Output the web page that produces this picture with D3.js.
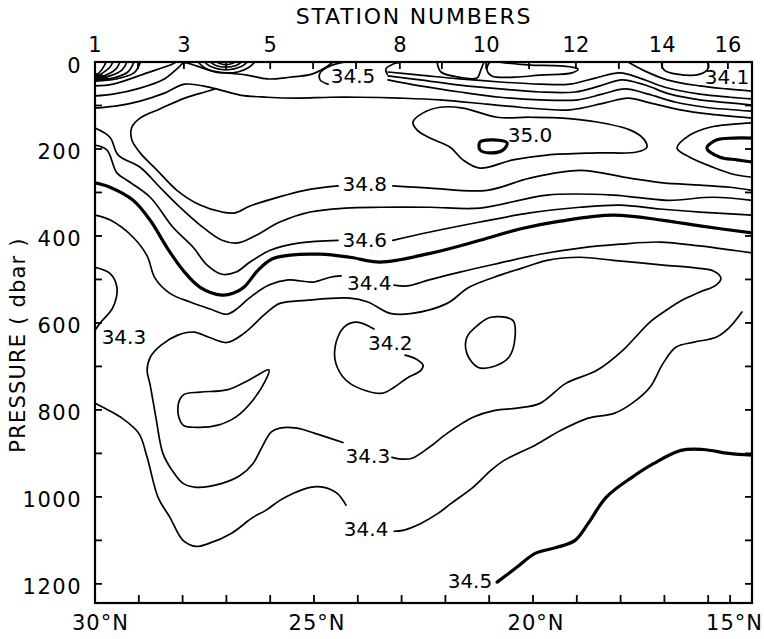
<!DOCTYPE html>
<html><head><meta charset="utf-8">
<script src="https://cdn.jsdelivr.net/npm/d3@7"></script>
<style>
body{margin:0;background:#fff}
text{font-family:"DejaVu Sans",sans-serif;fill:#000}
</style></head>
<body><svg id="c" width="764" height="639"></svg>
<script>
// ---------- axes data ----------
const latTicks = [30,29,28,27,26,25,24,23,22,21,20,19,18,17,16,15.5,15];
const latLabels = [30,25,20,15];
const pressureTicks = [0,100,200,300,400,500,600,700,800,900,1000,1100,1200];
const pressureLabels = [0,200,400,600,800,1000,1200];
const stationNumbers = [1,2,3,4,5,6,7,8,9,10,11,12,13,14,15,16];
const stationLats = [30.0,29.02,27.97,27.01,26.0,25.02,24.04,23.04,22.08,21.07,20.09,19.02,18.04,17.05,16.0,15.55];
const stationLabelled = [1,3,5,8,10,12,14,16];

// ---------- contour lines: [latitude °N, pressure dbar] ----------
// near-surface front at 30N
const fan0 = [[30,32],[29.89,23],[29.79,9],[29.75,0]];
const fan1 = [[30,35],[29.82,25],[29.66,12],[29.59,0]];
const fan2 = [[30,37],[29.75,30],[29.52,16],[29.43,0]];
const fan3 = [[30,39],[29.66,32],[29.38,18],[29.27,0]];
const fan4 = [[30,41],[29.59,37],[29.25,23],[29.11,0]];
const fan5 = [[30,44],[29.52,39],[29.11,25],[28.97,2]];
const top1 = [[30,55],[29.59,51],[28.81,25],[28.24,5],[28.15,0]];
const top2 = [[30,78],[29.59,74],[28.97,60],[28.45,41],[28.11,14],[27.97,2],[27.69,9],[27.31,21],[26.53,30],[26.07,39],[25.55,35],[25.05,28],[24.73,12],[24.57,0]];
const eye1 = [[27.65,0],[27.49,14],[27.26,23],[27.01,25],[26.74,23],[26.51,14],[26.35,0]];
const eye2 = [[27.50,0],[27.37,10],[27.01,18],[26.65,10],[26.52,0]];
const eye3 = [[27.36,0],[27.24,8],[27.01,12],[26.78,8],[26.66,0]];
const eye4 = [[27.22,0],[27.13,4],[27.01,6],[26.89,4],[26.80,0]];
const hook345 = [[24.29,0],[24.63,9],[24.86,25],[24.86,41],[24.68,51]];
const hook8 = [[22.97,0],[23.20,5],[23.36,16],[23.33,28]];
const cap910 = [[22.19,0],[22.10,23],[21.67,35],[21.28,37],[21.19,18],[21.12,0]];
const cap1012 = [[20.98,0],[21.05,18],[20.94,32],[20.41,35],[19.84,30],[19.11,25],[18.97,16],[19.38,9],[20.07,7],[20.64,2],[20.80,0]];
const cap1415 = [[17.05,0],[17.01,18],[16.71,28],[16.19,28],[16.0,14],[16.03,0]];
const upperR1 = [[17.83,0],[17.44,21],[16.94,41],[16.19,55],[15.57,62],[15.0,67]];
const upper345 = [[23.31,23],[22.58,30],[21.67,39],[20.75,46],[19.84,51],[19.16,51],[18.58,37],[18.01,25],[17.56,37],[16.99,58],[16.19,74],[15.50,81],[15.0,85]];
const upper346 = [[23.31,32],[22.58,41],[21.67,53],[20.75,62],[19.84,69],[19.04,69],[18.47,55],[17.97,41],[17.44,53],[16.87,74],[16.19,87],[15.50,94],[15.0,99]];
const upper347 = [[23.31,41],[22.58,55],[21.67,69],[20.75,81],[19.84,87],[18.97,87],[18.42,74],[17.90,62],[17.37,74],[16.76,92],[16.07,104],[15.0,113]];
const upper348 = [[30,106],[29.50,101],[28.97,90],[28.40,71],[27.95,51],[27.31,60],[26.69,76],[26.07,81],[25.39,83],[24.63,81],[23.95,81],[23.04,83],[22.12,87],[21.05,97],[20.30,104],[19.16,110],[18.36,94],[17.83,83],[17.33,94],[16.64,110],[15.96,120],[15.0,129]];
// salinity maximum
const max349 = [[22.74,138],[22.51,117],[22.12,104],[21.60,106],[20.82,127],[20.07,127],[19.32,129],[18.54,138],[17.79,156],[17.49,175],[17.40,196],[17.63,207],[18.54,209],[19.68,214],[20.46,225],[21.21,244],[21.60,225],[21.89,196],[22.35,175],[22.65,156]];
const max350 = [[21.21,184],[20.91,179],[20.59,186],[20.68,202],[20.98,209],[21.21,202]];
const tongue349 = [[15,140],[15.43,143],[15.96,150],[16.42,168],[16.71,198],[16.42,219],[15.89,242],[15.43,258],[15,265]];
const tongue350 = [[15,175],[15.43,175],[15.80,179],[16.03,198],[15.73,219],[15.34,225],[15,230]];
// thermocline
const c348a = [[27.26,62],[27.49,69],[27.95,83],[28.52,108],[28.97,129],[29.16,150],[29.16,179],[28.97,209],[28.58,249],[28.13,295],[27.60,329],[27.10,345],[26.80,347],[26.46,331],[25.89,313],[25.21,295],[24.45,285]];
const c348b = [[23.20,285],[22.35,290],[21.05,295],[20.07,267],[18.93,249],[17.79,267],[17.03,278],[16.19,283],[15.50,288],[15.0,295]];
const c347 = [[30,152],[29.66,173],[29.47,214],[28.97,242],[28.52,288],[28.06,334],[27.60,375],[27.10,410],[26.74,416],[26.35,400],[25.78,368],[25.09,345],[24.29,336],[23.49,334],[22.35,334],[21.21,336],[19.68,306],[18.17,306],[16.94,318],[15.89,311],[15.0,318]];
const c346a = [[30,191],[29.73,202],[29.50,255],[29.27,272],[28.74,311],[28.22,380],[27.76,426],[27.44,467],[27.10,488],[26.78,483],[26.46,460],[26.0,433],[25.32,416],[24.45,410]];
const c346b = [[23.20,410],[22.35,391],[21.21,368],[20.07,347],[18.93,334],[18.01,329],[17.10,338],[16.19,345],[15.0,352]];
const c345 = [[30,278],[29.66,288],[29.13,318],[28.74,364],[28.36,426],[27.99,479],[27.60,518],[27.10,536],[26.85,532],[26.60,518],[26.28,479],[25.96,453],[25.55,444],[24.86,442],[24.18,449],[23.49,460],[22.35,440],[21.21,410],[20.30,384],[19.38,366],[18.17,352],[17.03,364],[16.19,377],[15.0,393]];
const c344a = [[30,352],[29.66,363],[29.13,403],[28.81,446],[28.63,497],[28.29,532],[27.83,552],[27.37,568],[26.99,580],[26.74,566],[26.48,543],[26.03,513],[25.59,501],[25.02,506],[24.63,495],[24.38,492]];
const c344b = [[23.17,513],[22.88,515],[22.37,501],[21.67,483],[20.75,462],[19.84,442],[18.93,428],[18.01,419],[17.10,414],[16.19,423],[15.50,432],[15.0,439]];
// salinity minimum layer
const c343edge = [[30,472],[29.66,486],[29.50,518],[29.59,564],[29.89,601],[30,617]];
const c343loop = [[23.22,909],[23.01,913],[22.76,911],[22.37,886],[21.96,854],[21.37,817],[20.87,801],[20.37,796],[19.84,785],[19.25,739],[18.54,709],[17.95,663],[17.33,598],[16.96,571],[16.60,548],[16.19,529],[15.82,513],[15.71,497],[15.87,481],[16.26,474],[17.03,467],[18.17,456],[18.93,449],[19.68,456],[20.25,474],[20.75,490],[21.46,518],[21.96,555],[22.76,578],[23.26,578],[23.77,552],[24.18,543],[25.18,548],[25.78,555],[26.10,578],[26.60,624],[26.99,645],[27.40,633],[27.74,621],[28.11,628],[28.49,651],[28.74,679],[28.81,709],[28.74,743],[28.61,817],[28.45,900],[28.24,939],[27.99,969],[27.69,978],[27.10,969],[26.69,951],[26.39,923],[26.19,886],[25.98,851],[25.78,842],[25.39,842],[24.98,854],[24.34,875]];
const c342west = [[26.03,708],[26.10,731],[26.39,777],[26.78,816],[27.19,835],[27.69,840],[27.99,835],[28.11,800],[27.99,766],[27.60,759],[26.99,754],[26.48,731]];
const c342mid = [[23.63,614],[24.02,598],[24.32,610],[24.52,656],[24.47,702],[24.18,739],[23.47,762],[23.17,748],[22.88,727],[22.56,709],[22.51,697],[22.67,683],[22.92,674]];
const c342east = [[20.96,587],[20.46,594],[20.41,633],[20.55,679],[20.96,702],[21.26,702],[21.51,670],[21.51,633],[21.26,605]];
// deep water
const c344deepA = [[30,785],[29.82,794],[29.41,817],[29.00,854],[28.81,909],[28.56,1001],[28.29,1047],[27.99,1100],[27.69,1114],[27.40,1107],[26.89,1084],[26.39,1047],[26.10,1031],[25.78,1008],[25.48,992],[25.09,978],[24.77,978],[24.47,992],[24.27,1019]];
const c344deepB = [[23.17,1079],[22.97,1077],[22.56,1061],[22.17,1038],[21.87,1015],[21.37,978],[20.96,939],[20.66,916],[19.95,881],[19.36,847],[18.74,819],[18.15,808],[17.74,785],[17.33,748],[17.03,693],[16.74,656],[16.32,644],[15.82,633],[15.53,612],[15.23,575]];
const c345deep = [[20.82,1196],[20.37,1162],[19.95,1130],[19.45,1116],[19.04,1100],[18.74,1061],[18.33,1001],[17.74,955],[17.24,923],[16.62,893],[16.12,891],[15.53,900],[15.0,904]];

// contour labels
const labelText = ["34.5","34.1","35.0","34.8","34.6","34.4","34.2","34.3","34.3","34.4","34.5"];
const labelLat  = [24.11,15.57,20.07,23.84,23.84,23.74,23.26,29.34,23.77,23.81,21.44];
const labelP    = [32,35,168,281,410,509,647,633,905,1073,1193];

// ---------- drawing ----------
const svg = d3.select("#c");
const x = d3.scaleLinear().domain([30,15]).range([95,752]);
const y = d3.scaleLinear().domain([0,1244]).range([62,603]);

const openLines = [fan0,fan1,fan2,fan3,fan4,fan5,top1,top2,eye1,eye2,eye3,eye4,hook345,hook8,cap910,upperR1,upper345,upper346,upper347,upper348,
  tongue349,c348a,c348b,c347,c346a,c346b,c344a,c344b,c343edge,c343loop,c342mid,c344deepA,c344deepB];
const boldOpen = [tongue350,c345,c345deep];
const closedLines = [cap1012,cap1415,max349,c342west,c342east];
const boldClosed = [max350];

svg.append("defs").append("clipPath").attr("id","plot").append("rect")
  .attr("x",x(30)).attr("y",y(0)).attr("width",x(15)-x(30)).attr("height",y(1244)-y(0));
const g = svg.append("g").attr("clip-path","url(#plot)");
const lineOpen = d3.line().x(d=>x(d[0])).y(d=>y(d[1])).curve(d3.curveCatmullRom.alpha(0.5));
const lineClosed = d3.line().x(d=>x(d[0])).y(d=>y(d[1])).curve(d3.curveCatmullRomClosed.alpha(0.5));

function draw(arr, gen, w){
  g.selectAll(null).data(arr).enter().append("path")
   .attr("d",gen).attr("fill","none").attr("stroke","#000")
   .attr("stroke-width",w).attr("stroke-linejoin","round").attr("stroke-linecap","round");
}
draw(openLines,lineOpen,1.7);
draw(closedLines,lineClosed,1.7);
draw(boldOpen,lineOpen,3.2);
draw(boldClosed,lineClosed,3.2);
// heavy wedge of the surface front
g.append("path").attr("d",lineOpen([[30,31],[29.72,38]])).attr("stroke","#000").attr("stroke-width",5).attr("fill","none");

// contour labels
svg.selectAll(null).data(labelText).enter().append("text")
  .attr("x",(d,i)=>x(labelLat[i])).attr("y",(d,i)=>y(labelP[i]))
  .attr("text-anchor","middle").attr("dominant-baseline","central")
  .attr("font-size",20).text(d=>d);

// frame
svg.append("rect").attr("x",x(30)).attr("y",y(0)).attr("width",x(15)-x(30)).attr("height",y(1244)-y(0))
  .attr("fill","none").attr("stroke","#000").attr("stroke-width",2.2);

// ticks
const tk = svg.append("g").attr("stroke","#000").attr("stroke-width",1.8);
tk.selectAll(null).data(latTicks).enter().append("line")
  .attr("x1",d=>x(d)).attr("x2",d=>x(d)).attr("y1",y(1244)).attr("y2",y(1244)-8);
tk.selectAll(null).data(pressureTicks).enter().append("line")
  .attr("x1",x(30)).attr("x2",x(30)+7).attr("y1",d=>y(d)).attr("y2",d=>y(d));
tk.selectAll(null).data(pressureTicks).enter().append("line")
  .attr("x1",x(15)).attr("x2",x(15)-7).attr("y1",d=>y(d)).attr("y2",d=>y(d));
tk.selectAll(null).data(stationLats).enter().append("line")
  .attr("x1",d=>x(d)).attr("x2",d=>x(d)).attr("y1",y(0)).attr("y2",y(0)+7);

// tick labels
svg.selectAll(null).data(pressureLabels).enter().append("text")
  .attr("x",x(30)-13).attr("y",d=>y(d)+10.5).attr("text-anchor","end")
  .attr("font-size",21).attr("letter-spacing",1.5).text(d=>d);
svg.selectAll(null).data(latLabels).enter().append("text")
  .attr("x",d=> d===30 ? x(d)-23 : d===15 ? x(d)+11 : x(d)+3)
  .attr("text-anchor",d=> d===30 ? "start" : d===15 ? "end" : "middle")
  .attr("y",630).attr("font-size",21).attr("letter-spacing",1).text(d=>d+"°N");
svg.selectAll(null).data(stationLabelled).enter().append("text")
  .attr("x",d=>x(stationLats[stationNumbers.indexOf(d)]))
  .attr("y",52).attr("text-anchor","middle").attr("font-size",21).text(d=>d);

// titles
svg.append("text").attr("x",414).attr("y",24).attr("text-anchor","middle")
  .attr("font-size",22).attr("letter-spacing",1.8).text("STATION NUMBERS");
svg.append("text").attr("transform","translate(25,345) rotate(-90)").attr("text-anchor","middle")
  .attr("font-size",21).attr("letter-spacing",1.2).text("PRESSURE ( dbar )");
</script></body></html>
